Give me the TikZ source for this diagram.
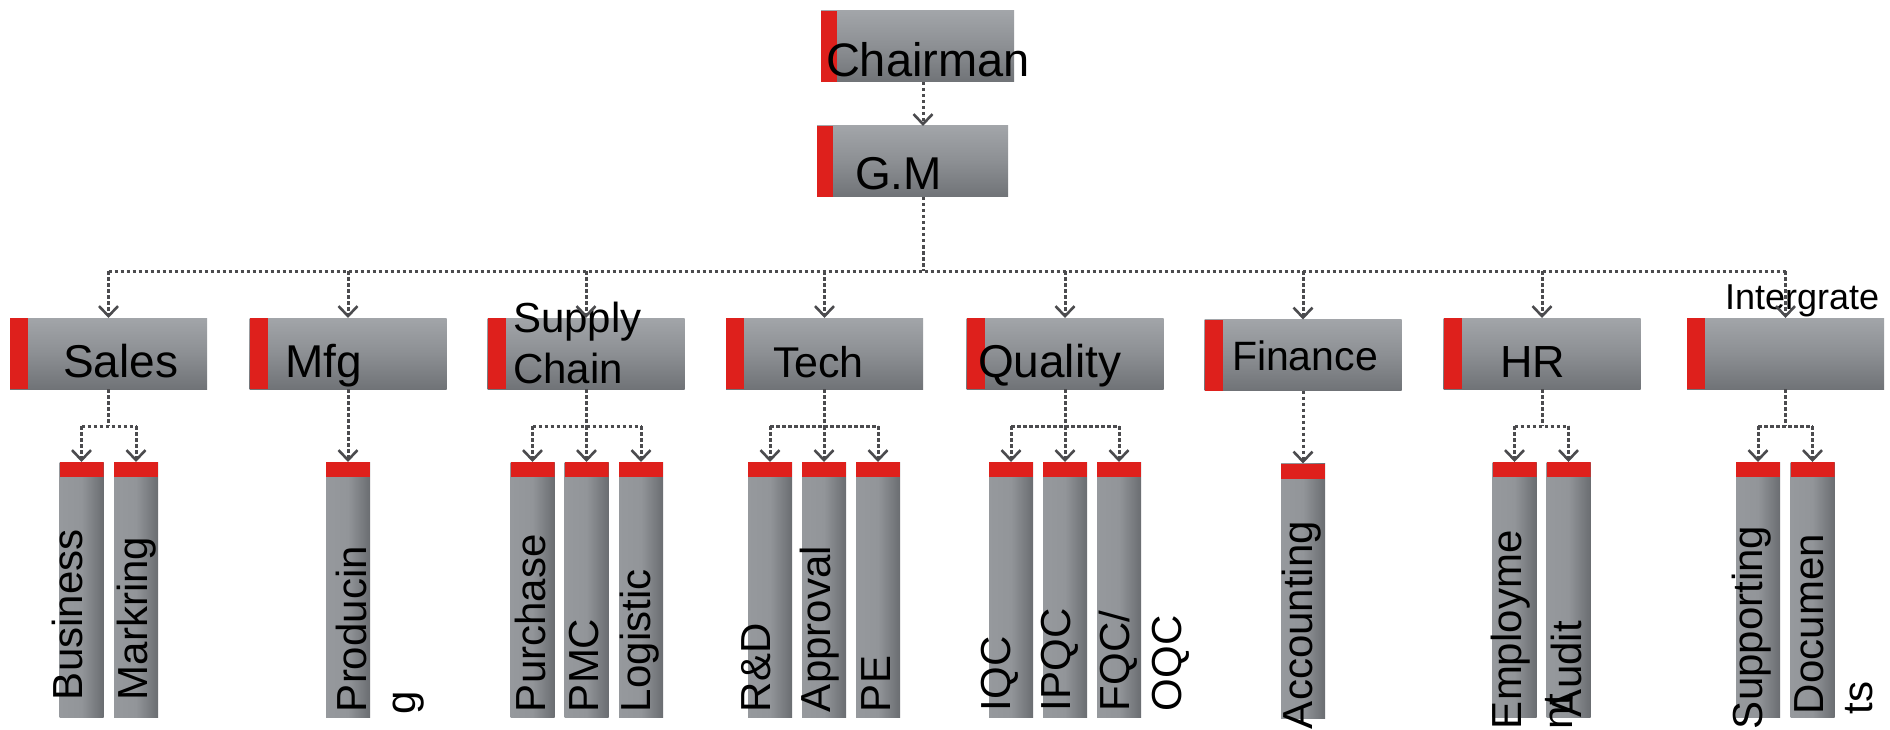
\documentclass[tikz,border=0pt]{standalone}
\usepackage{fontspec}
\setmainfont{Liberation Sans}
\usetikzlibrary{arrows.meta,calc}
\definecolor{redc}{RGB}{222,32,28}
\definecolor{boxtop}{RGB}{162,165,169}
\definecolor{boxmid}{RGB}{140,143,147}
\definecolor{boxbot}{RGB}{112,115,119}
\definecolor{colL}{RGB}{150,153,157}
\definecolor{colM}{RGB}{146,149,153}
\definecolor{colR}{RGB}{106,109,113}
\definecolor{linec}{RGB}{75,75,78}
\newcommand\fs[1]{\fontsize{#1}{#1}\selectfont}
\tikzset{
  topbox/.style={minimum width=197pt, minimum height=71pt, inner sep=0pt, outer sep=0pt,
    top color=boxtop, bottom color=boxbot, middle color=boxmid,
    path picture={\fill[redc] (path picture bounding box.north west) rectangle ([xshift=18pt]path picture bounding box.south west);}},
  colbox/.style={minimum width=44pt, minimum height=255pt, inner sep=0pt, outer sep=0pt,
    left color=colL, right color=colR, middle color=colM,
    path picture={\fill[redc] (path picture bounding box.north west) rectangle ([yshift=-15pt]path picture bounding box.north east);}},
  conn/.style={draw=linec, line width=3pt, dash pattern=on 3.5pt off 2.5pt},
  arr/.style={conn, -{Straight Barb[length=10pt,width=19pt,line width=2.6pt]}},
  hlabel/.style={anchor=base west, inner sep=0pt, outer sep=0pt, text=black},
  vlabel/.style={rotate=90, anchor=base west, inner sep=0pt, outer sep=0pt, text=black, font=\fs{42}},
}
\begin{document}
\begin{tikzpicture}[x=1pt,y=-1pt]
\useasboundingbox (0,0) rectangle (1890,730);
\fill[white] (0,0) rectangle (1890,730);

% top level
\node[topbox, minimum width=193pt, path picture={\fill[redc] (path picture bounding box.north west) rectangle ([xshift=16pt]path picture bounding box.south west);}] (chair) at (917.5,46.5) {};
\node[topbox, minimum width=191pt, path picture={\fill[redc] (path picture bounding box.north west) rectangle ([xshift=16pt]path picture bounding box.south west);}] (gm) at (912.5,161.5) {};
\coordinate (bus) at (923,271);
\coordinate (sub) at (0,426);

% departments
\node[topbox] (sales)   at (108.5,353.5) {};
\node[topbox] (mfg)     at (348,353.5) {};
\node[topbox] (supply)  at (586,353.5) {};
\node[topbox] (tech)    at (824.5,353.5) {};
\node[topbox] (quality) at (1065,353.5) {};
\node[topbox] (finance) at (1303,355) {};
\node[topbox] (hr)      at (1542,353.5) {};
\node[topbox] (intg)    at (1785.5,353.5) {};

% sections
\node[colbox] (business)   at (81.5,589.5) {};
\node[colbox] (markring)   at (136,589.5) {};
\node[colbox] (producing)  at (348,589.5) {};
\node[colbox] (purchase)   at (532.5,589.5) {};
\node[colbox] (pmc)        at (586.5,589.5) {};
\node[colbox] (logistic)   at (641,589.5) {};
\node[colbox] (rd)         at (770,589.5) {};
\node[colbox] (approval)   at (824,589.5) {};
\node[colbox] (pe)         at (878,589.5) {};
\node[colbox] (iqc)        at (1011,589.5) {};
\node[colbox] (ipqc)       at (1065,589.5) {};
\node[colbox] (fqc)        at (1119,589.5) {};
\node[colbox] (accounting) at (1303,591) {};
\node[colbox] (employment) at (1514.5,589.5) {};
\node[colbox] (audit)      at (1568.5,589.5) {};
\node[colbox] (supporting) at (1758,589.5) {};
\node[colbox] (documents)  at (1812.5,589.5) {};

% horizontal labels
\node[hlabel, font=\fs{47}] (tchair) at (826,77) {Chairman};
\node[hlabel, font=\fs{46}] (tgm) at (855,190) {G.M};
\node[hlabel, font=\fs{46}] (tsales) at (63,377) {Sales};
\node[hlabel, font=\fs{46}] (tmfg) at (285,377) {Mfg};
\node[hlabel, font=\fs{42}] (tsupply) at (513,332) {Supply};
\node[hlabel, font=\fs{42}] (tchain) at (513,383) {Chain};
\node[hlabel, font=\fs{43}] (ttech) at (773,377) {Tech};
\node[hlabel, font=\fs{46}] (tquality) at (978,377) {Quality};
\node[hlabel, font=\fs{41}] (tfinance) at (1232,370) {Finance};
\node[hlabel, font=\fs{45}] (thr) at (1500,377) {HR};
\node[hlabel, font=\fs{36}] (tintg) at (1725,309) {Intergrate};

% vertical labels
\node[vlabel] (tbusiness) at (82,700) {Business};
\node[vlabel] (tmarkring) at (147,700) {Markring};
\node[vlabel] (tproducing) at (366,712) {Producin};
\node[vlabel] (tproducing2) at (415,714) {g};
\node[vlabel] (tpurchase) at (545,712) {Purchase};
\node[vlabel] (tpmc) at (598,712) {PMC};
\node[vlabel] (tlogistic) at (650,712) {Logistic};
\node[vlabel] (trd) at (770,712) {R\&D};
\node[vlabel] (tapproval) at (830,712) {Approval};
\node[vlabel] (tpe) at (890,712) {PE};
\node[vlabel] (tiqc) at (1010,711) {IQC};
\node[vlabel] (tipqc) at (1070,711) {IPQC};
\node[vlabel] (tfqc) at (1129,711) {FQC/};
\node[vlabel] (toqc) at (1181,711) {OQC};
\node[vlabel] (taccounting) at (1312,729) {Accounting};
\node[vlabel] (temployment) at (1521,729) {Employme};
\node[vlabel] (temployment2) at (1572,729) {nt};
\node[vlabel] (taudit) at (1581,717) {Audit};
\node[vlabel] (tsupporting) at (1762,729) {Supporting};
\node[vlabel] (tdocuments) at (1823,714) {Documen};
\node[vlabel] (tdocuments2) at (1872,714) {ts};

% connectors: top
\draw[arr] (chair.south -| bus) -- (gm.north -| bus);
\draw[conn] (gm.south -| bus) -- (bus);
\draw[conn] (bus -| sales.north) -- (bus -| intg.north);
\foreach \n in {sales,mfg,supply,tech,quality,finance,hr,intg}
  \draw[arr] (bus -| \n.north) -- (\n.north);

% Sales
\draw[conn] (sales.south) -- (sales.south |- sub);
\draw[conn] (business.north |- sub) -- (markring.north |- sub);
\foreach \c in {business,markring} \draw[arr] (\c.north |- sub) -- (\c.north);
% Mfg
\draw[arr] (mfg.south -| producing.north) -- (producing.north);
% Supply chain
\draw[conn] (supply.south) -- (supply.south |- sub);
\draw[conn] (purchase.north |- sub) -- (logistic.north |- sub);
\foreach \c in {purchase,pmc,logistic} \draw[arr] (\c.north |- sub) -- (\c.north);
% Tech
\draw[conn] (tech.south) -- (tech.south |- sub);
\draw[conn] (rd.north |- sub) -- (pe.north |- sub);
\foreach \c in {rd,approval,pe} \draw[arr] (\c.north |- sub) -- (\c.north);
% Quality
\draw[conn] (quality.south) -- (quality.south |- sub);
\draw[conn] (iqc.north |- sub) -- (fqc.north |- sub);
\foreach \c in {iqc,ipqc,fqc} \draw[arr] (\c.north |- sub) -- (\c.north);
% Finance
\draw[arr] (finance.south -| accounting.north) -- (accounting.north);
% HR
\draw[conn] (hr.south) -- (hr.south |- sub);
\draw[conn] (employment.north |- sub) -- (audit.north |- sub);
\foreach \c in {employment,audit} \draw[arr] (\c.north |- sub) -- (\c.north);
% Integrate
\draw[conn] (intg.south) -- (intg.south |- sub);
\draw[conn] (supporting.north |- sub) -- (documents.north |- sub);
\foreach \c in {supporting,documents} \draw[arr] (\c.north |- sub) -- (\c.north);
\end{tikzpicture}
\end{document}
